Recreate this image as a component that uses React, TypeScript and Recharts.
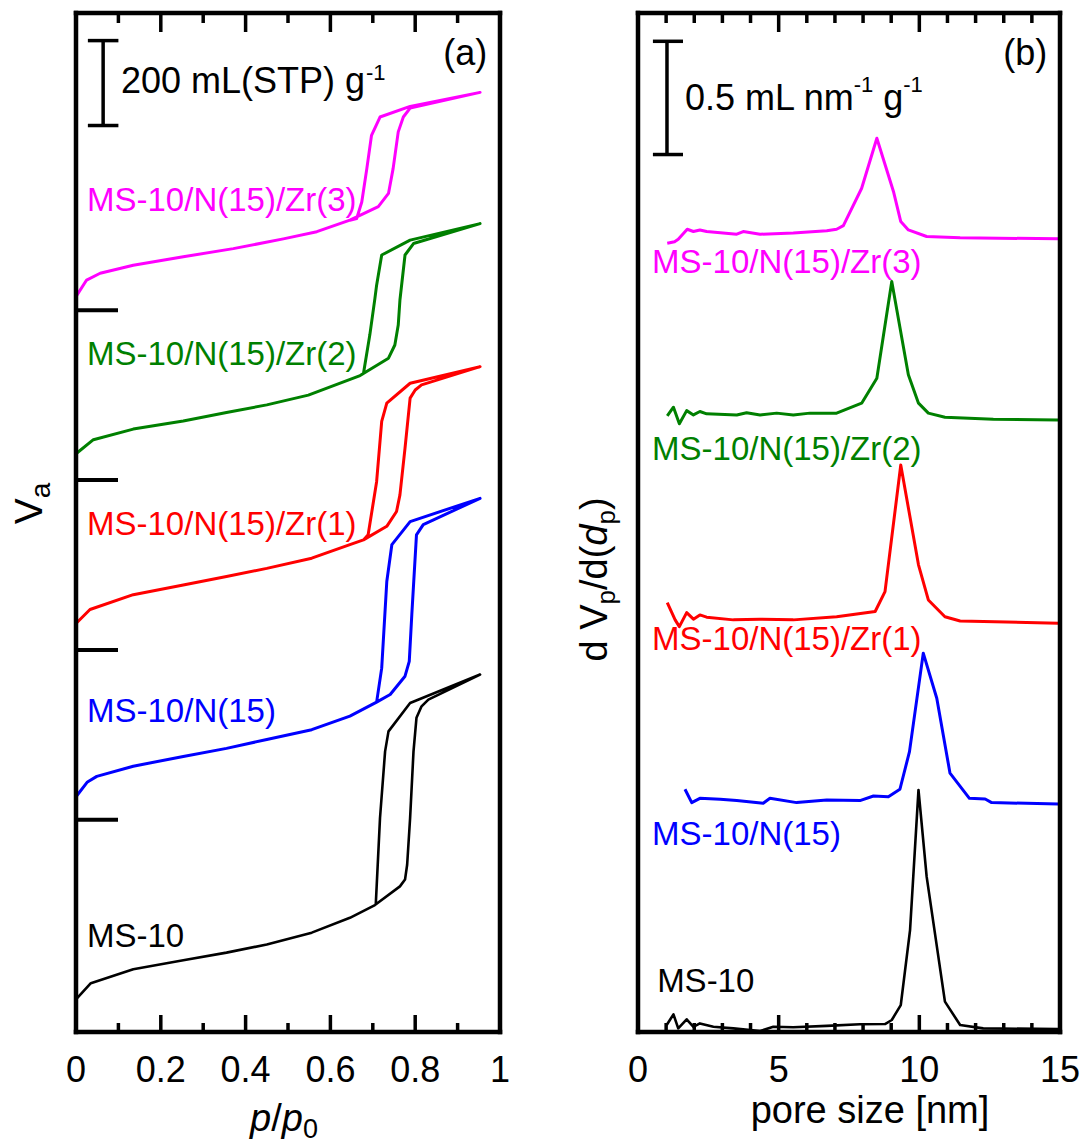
import React from 'react';
import { ComposedChart, Line, Scatter, XAxis, YAxis, ReferenceLine, ReferenceDot } from 'recharts';

const FONT = '"Liberation Sans", Arial, Helvetica, sans-serif';

// ---------- Panel (a): N2 isotherms, [p/p0, Va (offset, mL(STP)/g)], adsorption then desorption ----------
const isoMS10: number[][] = [
  [0, 77], [0.035, 115], [0.135, 148], [0.253, 169], [0.355, 187], [0.45, 206], [0.556, 234], [0.646, 269],
  [0.705, 299], [0.764, 343], [0.776, 359], [0.781, 394], [0.788, 504], [0.796, 661], [0.803, 740], [0.815, 767],
  [0.831, 783], [0.953, 842],
  [0.788, 775], [0.737, 708], [0.729, 661], [0.717, 504], [0.707, 300],
];
const isoN15: number[][] = [
  [0, 554], [0.027, 589], [0.049, 602], [0.135, 626], [0.253, 649], [0.355, 668], [0.45, 689], [0.556, 712],
  [0.646, 744], [0.709, 777], [0.741, 795], [0.776, 838], [0.786, 873], [0.792, 983], [0.803, 1171], [0.819, 1195],
  [0.953, 1257],
  [0.788, 1202], [0.745, 1148], [0.733, 1061], [0.721, 857], [0.709, 777],
];
const isoZr1: number[][] = [
  [0, 962], [0.033, 995], [0.135, 1030], [0.253, 1053], [0.355, 1073], [0.45, 1092], [0.556, 1116], [0.646, 1148],
  [0.678, 1159], [0.733, 1191], [0.756, 1226], [0.764, 1265], [0.776, 1375], [0.788, 1493], [0.8, 1512], [0.815, 1524],
  [0.953, 1567],
  [0.788, 1528], [0.733, 1481], [0.721, 1438], [0.709, 1296], [0.689, 1171], [0.678, 1159],
];
const isoZr2: number[][] = [
  [0, 1362], [0.041, 1395], [0.135, 1420], [0.253, 1439], [0.355, 1459], [0.45, 1477], [0.548, 1500], [0.67, 1546],
  [0.737, 1587], [0.752, 1618], [0.76, 1665], [0.764, 1724], [0.776, 1830], [0.796, 1857], [0.953, 1904],
  [0.788, 1865], [0.721, 1830], [0.709, 1759], [0.705, 1728], [0.693, 1642], [0.678, 1551], [0.67, 1546],
];
const isoZr3: number[][] = [
  [0, 1732], [0.025, 1771], [0.057, 1787], [0.135, 1806], [0.253, 1826], [0.371, 1845], [0.489, 1868], [0.568, 1885],
  [0.646, 1912], [0.713, 1944], [0.737, 1975], [0.748, 2034], [0.76, 2120], [0.772, 2155], [0.788, 2176], [0.953, 2213],
  [0.788, 2180], [0.717, 2155], [0.697, 2112], [0.686, 2034], [0.674, 1955], [0.662, 1916], [0.646, 1912],
];

// ---------- Panel (b): pore size distributions, [d (nm), dVp/d(dp) (offset)] ----------
const psdMS10: number[][] = [
  [1.02, 0.031], [1.26, 0.078], [1.43, 0.016], [1.73, 0.056], [1.97, 0.023], [2.2, 0.038], [2.68, 0.023], [3.39, 0.016],
  [4.34, 0.004], [4.81, 0.023], [5.52, 0.021], [6.71, 0.027], [7.89, 0.034], [8.78, 0.035], [9.02, 0.053], [9.34, 0.119],
  [9.67, 0.45], [9.97, 1.069], [10.26, 0.686], [10.91, 0.134], [11.45, 0.031], [12.27, 0.016], [14.94, 0.013],
];
const psdN15: number[][] = [
  [1.67, 1.072], [1.91, 1.013], [2.2, 1.032], [2.92, 1.028], [3.51, 1.022], [4.45, 1.01], [4.69, 1.032], [5.64, 1.013],
  [6.71, 1.025], [7.89, 1.022], [8.37, 1.042], [8.9, 1.039], [9.31, 1.072], [9.65, 1.238], [10.14, 1.673], [10.62, 1.474],
  [11.09, 1.143], [11.78, 1.032], [12.34, 1.029], [12.57, 1.013], [14.94, 1.007],
];
const psdZr1: number[][] = [
  [1.04, 1.896], [1.32, 1.82], [1.47, 1.79], [1.73, 1.852], [1.97, 1.823], [2.2, 1.842], [2.44, 1.832], [3.39, 1.82],
  [4.34, 1.823], [5.52, 1.82], [7.06, 1.834], [8.43, 1.857], [8.78, 1.945], [9.34, 2.504], [9.97, 2.063], [10.32, 1.908],
  [10.91, 1.834], [11.45, 1.815], [14.94, 1.805],
];
const psdZr2: number[][] = [
  [1.04, 2.721], [1.26, 2.759], [1.47, 2.686], [1.73, 2.744], [1.97, 2.725], [2.2, 2.74], [2.44, 2.73], [3.51, 2.725],
  [3.86, 2.735], [4.34, 2.725], [4.93, 2.733], [5.52, 2.725], [6.11, 2.733], [7.06, 2.733], [7.95, 2.777], [8.49, 2.887],
  [9.02, 3.314], [9.61, 2.902], [9.97, 2.777], [10.32, 2.733], [10.91, 2.715], [12.63, 2.706], [14.94, 2.703],
];
const psdZr3: number[][] = [
  [1.04, 3.483], [1.3, 3.49], [1.43, 3.501], [1.75, 3.545], [1.97, 3.535], [2.2, 3.542], [2.44, 3.535], [3.51, 3.523],
  [3.74, 3.535], [4.34, 3.523], [5.52, 3.528], [6.71, 3.538], [7.06, 3.545], [7.3, 3.561], [7.95, 3.726], [8.49, 3.947],
  [9.08, 3.712], [9.34, 3.579], [9.61, 3.542], [10.26, 3.513], [11.45, 3.507], [14.94, 3.503],
];

// ---------- ticks ----------
const aMajorTicks = [0, 0.2, 0.4, 0.6, 0.8, 1];
const aMinorTicks = [0.1, 0.3, 0.5, 0.7, 0.9];
const aYTicks = [500, 900, 1300, 1700];
const bMajorTicks = [0, 5, 10, 15];
const bMinorTicks = [1, 2, 3, 4, 6, 7, 8, 9, 11, 12, 13, 14];

// ---------- axis ranges ----------
const aXDomain = [0, 1];
const aYDomain = [0, 2400];
const bXDomain = [0, 15];
const bYDomain = [0, 4.5];

// ---------- series / labels ----------
const seriesA = [
  { name: 'MS-10', color: '#000000', data: isoMS10, lx: 0.026, ly: 200, w: 2.6 },
  { name: 'MS-10/N(15)', color: '#0000FF', data: isoN15, lx: 0.026, ly: 730, w: 3 },
  { name: 'MS-10/N(15)/Zr(1)', color: '#FF0000', data: isoZr1, lx: 0.026, ly: 1170, w: 3 },
  { name: 'MS-10/N(15)/Zr(2)', color: '#008000', data: isoZr2, lx: 0.026, ly: 1571, w: 3 },
  { name: 'MS-10/N(15)/Zr(3)', color: '#FF00FF', data: isoZr3, lx: 0.026, ly: 1934, w: 3 },
];
const seriesB = [
  { name: 'MS-10', color: '#000000', data: psdMS10, lx: 0.68, ly: 0.177, w: 2.6 },
  { name: 'MS-10/N(15)', color: '#0000FF', data: psdN15, lx: 0.5, ly: 0.826, w: 3 },
  { name: 'MS-10/N(15)/Zr(1)', color: '#FF0000', data: psdZr1, lx: 0.5, ly: 1.687, w: 3 },
  { name: 'MS-10/N(15)/Zr(2)', color: '#008000', data: psdZr2, lx: 0.5, ly: 2.527, w: 3 },
  { name: 'MS-10/N(15)/Zr(3)', color: '#FF00FF', data: psdZr3, lx: 0.5, ly: 3.352, w: 3 },
];

const toXY = (arr: number[][]) => arr.map(([x, y]) => ({ x, y }));

const FRAME = { stroke: '#000', strokeWidth: 4.5, strokeLinecap: 'square' as const };
const TICK_W = 3.5;

// ---------- inward x tick marks: points on the bottom/top edges, each drawn as a short stroke ----------
type TickPt = { x: number; y: number; dir: number; len: number };
const tickPoints = (majors: number[], minors: number[], yDom: number[]): TickPt[] => {
  const pts: TickPt[] = [];
  majors.forEach((t) => {
    pts.push({ x: t, y: yDom[0], dir: -1, len: 17 });
    pts.push({ x: t, y: yDom[1], dir: 1, len: 19 });
  });
  minors.forEach((t) => {
    pts.push({ x: t, y: yDom[0], dir: -1, len: 9 });
    pts.push({ x: t, y: yDom[1], dir: 1, len: 10 });
  });
  return pts;
};
const aTickPts = tickPoints(aMajorTicks, aMinorTicks, aYDomain);
const bTickPts = tickPoints(bMajorTicks, bMinorTicks, bYDomain);

const TickShape = (props: any) => {
  const cx = Number(props.cx);
  const cy = Number(props.cy);
  const p = props.payload || {};
  if (!isFinite(cx) || !isFinite(cy)) return <g />;
  return <line x1={cx} x2={cx} y1={cy} y2={cy + p.dir * p.len} stroke="#000" strokeWidth={TICK_W} />;
};

// tick label renderer (tickSize=0, tickMargin=0 -> (x, y) is the tick's point on the axis line)
const bottomLabel = (props: any) => {
  const x = Number(props.x);
  const y = Number(props.y);
  return (
    <text x={x} y={y + 50} textAnchor="middle" fill="#000" fontSize={36} fontFamily={FONT}>
      {String(props.payload?.value)}
    </text>
  );
};
const leftTick = (len: number) => (props: any) => {
  const x = Number(props.x);
  const y = Number(props.y);
  return <line x1={x} x2={x + len} y1={y} y2={y} stroke="#000" strokeWidth={4} />;
};

const anchor = (vb: any) => ({
  x: (vb?.x ?? 0) + (vb?.width ?? 0) / 2,
  y: (vb?.y ?? 0) + (vb?.height ?? 0) / 2,
});

const textLabel = (txt: string, color: string, size: number) => (props: any) => {
  const { x, y } = anchor(props.viewBox);
  return (
    <text x={x} y={y} fill={color} fontSize={size} fontFamily={FONT}>
      {txt}
    </text>
  );
};

const scaleLabelA = (props: any) => {
  const { x, y } = anchor(props.viewBox);
  return (
    <text x={x} y={y} fill="#000" fontSize={36} fontFamily={FONT}>
      200 mL(STP) g<tspan fontSize={22} dx={1} dy={-13}>-1</tspan>
    </text>
  );
};

const scaleLabelB = (props: any) => {
  const { x, y } = anchor(props.viewBox);
  return (
    <text x={x} y={y} fill="#000" fontSize={36} fontFamily={FONT}>
      0.5 mL nm<tspan fontSize={22} dy={-18}>-1</tspan>
      <tspan dy={18}> g</tspan>
      <tspan fontSize={22} dy={-18}>-1</tspan>
    </text>
  );
};

const xTitleA = (props: any) => {
  const vb = props.viewBox || {};
  const cx = vb.x + vb.width / 2 - 4;
  const y = vb.y + 99;
  return (
    <text x={cx} y={y} textAnchor="middle" fill="#000" fontSize={38} fontFamily={FONT}>
      <tspan fontStyle="italic">p</tspan>/<tspan fontStyle="italic">p</tspan>
      <tspan fontSize={27} dy={7}>0</tspan>
    </text>
  );
};

const xTitleB = (props: any) => {
  const vb = props.viewBox || {};
  const cx = vb.x + vb.width / 2 + 21;
  const y = vb.y + 91;
  return (
    <text x={cx} y={y} textAnchor="middle" fill="#000" fontSize={38} fontFamily={FONT}>
      pore size [nm]
    </text>
  );
};

const yTitleA = (props: any) => {
  const vb = props.viewBox || {};
  const bx = vb.x + (vb.width || 0) - 34;
  const cy = vb.y + vb.height / 2 - 19;
  return (
    <text x={bx} y={cy} transform={`rotate(-90 ${bx} ${cy})`} textAnchor="middle" fill="#000" fontSize={39}
      fontFamily={FONT}>
      V<tspan fontSize={28} dy={8}>a</tspan>
    </text>
  );
};

const yTitleB = (props: any) => {
  const vb = props.viewBox || {};
  const bx = vb.x + (vb.width || 0) - 31;
  const cy = vb.y + vb.height / 2 + 57;
  return (
    <text x={bx} y={cy} transform={`rotate(-90 ${bx} ${cy})`} textAnchor="middle" fill="#000" fontSize={38}
      fontFamily={FONT}>
      d V<tspan fontSize={26} dy={8}>p</tspan>
      <tspan dy={-8}>/d(</tspan>
      <tspan fontStyle="italic">d</tspan>
      <tspan fontSize={26} dy={8}>p</tspan>
      <tspan dy={-8}>)</tspan>
    </text>
  );
};

function PanelA() {
  return (
    <ComposedChart width={545} height={1146} margin={{ top: 12, right: 44, bottom: 113, left: 75 }}>
      <XAxis dataKey="x" type="number" domain={aXDomain} ticks={aMajorTicks} interval={0} height={1}
        tickSize={0} tickMargin={0} tick={bottomLabel} tickLine={false} axisLine={FRAME}
        stroke="#000" label={xTitleA} />
      <XAxis xAxisId="t" orientation="top" dataKey="x" type="number" domain={aXDomain} height={1}
        tick={false} tickLine={false} axisLine={FRAME} stroke="#000" />
      <YAxis dataKey="y" type="number" domain={aYDomain} ticks={aYTicks} interval={0} width={1} tickSize={0}
        tickMargin={0} tick={leftTick(42)} tickLine={false} axisLine={FRAME} stroke="#000" label={yTitleA} />
      <YAxis yAxisId="r" orientation="right" type="number" domain={aYDomain} width={1}
        tick={false} tickLine={false} axisLine={FRAME} stroke="#000" />

      <Scatter data={aTickPts} dataKey="y" shape={TickShape} isAnimationActive={false} legendType="none" />

      {/* scale bar: 200 mL(STP)/g */}
      <ReferenceLine segment={[{ x: 0.064, y: 2135 }, { x: 0.064, y: 2335 }]} stroke="#000" strokeWidth={3.5} />
      <ReferenceLine segment={[{ x: 0.028, y: 2335 }, { x: 0.1, y: 2335 }]} stroke="#000" strokeWidth={3.5} />
      <ReferenceLine segment={[{ x: 0.028, y: 2135 }, { x: 0.1, y: 2135 }]} stroke="#000" strokeWidth={3.5} />
      <ReferenceDot x={0.106} y={2211} r={0} fill="none" stroke="none" label={scaleLabelA} />
      <ReferenceDot x={0.866} y={2277} r={0} fill="none" stroke="none" label={textLabel('(a)', '#000', 36)} />

      {seriesA.map((s) => (
        <Line key={s.name} data={toXY(s.data)} dataKey="y" type="linear" stroke={s.color} strokeWidth={s.w}
          strokeLinejoin="round" dot={false} activeDot={false} isAnimationActive={false} />
      ))}
      {seriesA.map((s) => (
        <ReferenceDot key={'l' + s.name} x={s.lx} y={s.ly} r={0} fill="none" stroke="none"
          label={textLabel(s.name, s.color, 33)} />
      ))}
    </ComposedChart>
  );
}

function PanelB() {
  return (
    <ComposedChart width={545} height={1146} margin={{ top: 12, right: 29, bottom: 113, left: 92 }}>
      <XAxis dataKey="x" type="number" domain={bXDomain} ticks={bMajorTicks} interval={0} height={1}
        tickSize={0} tickMargin={0} tick={bottomLabel} tickLine={false} axisLine={FRAME}
        stroke="#000" label={xTitleB} />
      <XAxis xAxisId="t" orientation="top" dataKey="x" type="number" domain={bXDomain} height={1}
        tick={false} tickLine={false} axisLine={FRAME} stroke="#000" />
      <YAxis dataKey="y" type="number" domain={bYDomain} width={1} tick={false} tickLine={false} axisLine={FRAME}
        stroke="#000" label={yTitleB} />
      <YAxis yAxisId="r" orientation="right" type="number" domain={bYDomain} width={1}
        tick={false} tickLine={false} axisLine={FRAME} stroke="#000" />

      <Scatter data={bTickPts} dataKey="y" shape={TickShape} isAnimationActive={false} legendType="none" />

      {/* scale bar: 0.5 mL nm-1 g-1 */}
      <ReferenceLine segment={[{ x: 1.03, y: 3.875 }, { x: 1.03, y: 4.375 }]} stroke="#000" strokeWidth={3.5} />
      <ReferenceLine segment={[{ x: 0.53, y: 4.375 }, { x: 1.6, y: 4.375 }]} stroke="#000" strokeWidth={3.5} />
      <ReferenceLine segment={[{ x: 0.53, y: 3.875 }, { x: 1.6, y: 3.875 }]} stroke="#000" strokeWidth={3.5} />
      <ReferenceDot x={1.67} y={4.072} r={0} fill="none" stroke="none" label={scaleLabelB} />
      <ReferenceDot x={12.98} y={4.271} r={0} fill="none" stroke="none" label={textLabel('(b)', '#000', 36)} />

      {seriesB.map((s) => (
        <Line key={s.name} data={toXY(s.data)} dataKey="y" type="linear" stroke={s.color} strokeWidth={s.w}
          strokeLinejoin="round" dot={false} activeDot={false} isAnimationActive={false} />
      ))}
      {seriesB.map((s) => (
        <ReferenceDot key={'l' + s.name} x={s.lx} y={s.ly} r={0} fill="none" stroke="none"
          label={textLabel(s.name, s.color, 33)} />
      ))}
    </ComposedChart>
  );
}

export default function App() {
  return (
    <div style={{ position: 'absolute', left: 0, top: 0, width: 1090, height: 1146, background: '#fff' }}>
      <div style={{ position: 'absolute', left: 0, top: 0 }}>
        <PanelA />
      </div>
      <div style={{ position: 'absolute', left: 545, top: 0 }}>
        <PanelB />
      </div>
    </div>
  );
}
